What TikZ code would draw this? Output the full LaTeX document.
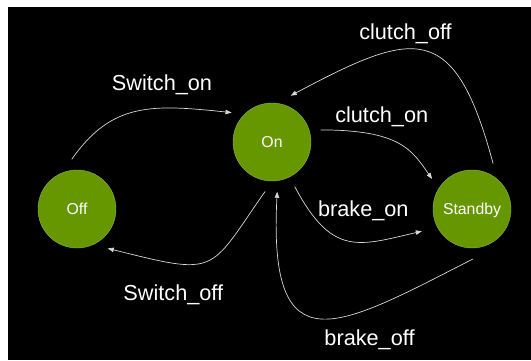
\documentclass[tikz,border=0pt]{standalone}
\usepackage{fontspec}
\setmainfont{Liberation Sans}
\usetikzlibrary{arrows.meta}

\definecolor{stategreen}{RGB}{102,150,0}
\definecolor{edgegray}{RGB}{215,215,215}

\begin{document}
\begin{tikzpicture}[x=1pt,y=1pt,
  >={Triangle[length=6pt,width=4.5pt]},
  state/.style={circle, fill=stategreen, draw=stategreen!70!white, line width=0.4pt,
    minimum size=78pt, inner sep=0pt, outer sep=11pt, text=white,
    font=\fontsize{15.8}{18}\selectfont, text height=11.3pt, text depth=0pt},
  trans/.style={->, edgegray, line width=0.7pt},
  event/.style={text=white, anchor=base, font=\fontsize{21.7}{26}\selectfont}]
\useasboundingbox (0,0) rectangle (531,-360);
\fill[white] (0,0) rectangle (531,-360);
\fill[black] (8,-7) rectangle (531,-360);

% states
\node[state] (off) at (77,-209) {Off};
\node[state] (on) at (272,-142) {On};
\node[state] (standby) at (472,-209) {Standby};

% transitions
\draw[trans] (off.96) .. controls +(55:70) and +(174:80) .. (on.144);
\draw[trans] (on.262) .. controls +(235:100) and +(346:115) .. (off.308);
\draw[trans] (on.14) .. controls +(0:80) and +(125:35) .. (standby.143);
\draw[trans] (standby.65) .. controls +(105:150) and +(28:140) .. (on.68);
\draw[trans, shorten >=5pt] (on.297) .. controls +(-62:80) and +(193:70) .. (standby.205);
\draw[trans] (standby.271) .. controls +(207:150) and +(267:180) .. (on.276);

% events
\node[event] (swon) at (162,-90.8) {Switch\_on};
\node[event] (swoff) at (173.3,-300.3) {Switch\_off};
\node[event] (clon) at (381.7,-122) {clutch\_on};
\node[event] (cloff) at (405.5,-39) {clutch\_off};
\node[event] (bron) at (363.3,-216.7) {brake\_on};
\node[event] (broff) at (369.5,-345) {brake\_off};
\end{tikzpicture}
\end{document}
